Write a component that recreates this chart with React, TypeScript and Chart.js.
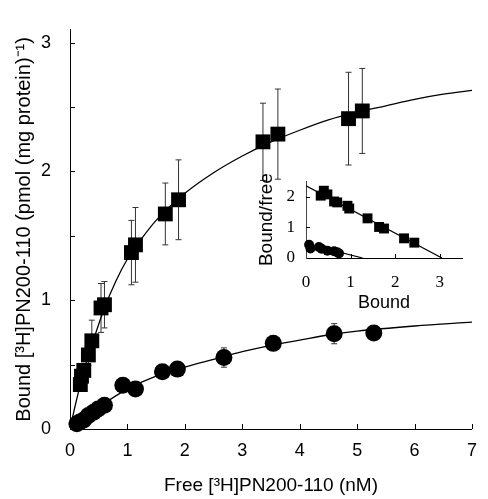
import React, { useEffect, useRef } from "react";
import { Chart, registerables } from "chart.js";

Chart.register(...registerables);

const SANS = "'Liberation Sans', Arial, Helvetica, sans-serif";
const SERIF = "'Liberation Serif', 'Times New Roman', serif";

// ---- Main plot: saturation binding ----
const xTicks = [0, 1, 2, 3, 4, 5, 6, 7];
const yTicks = [0, 1, 2, 3];
const xInnerTicks = [1, 2, 3, 4, 5, 6, 7];
const yInnerTicks = [0.5, 1, 1.5, 2, 2.5, 3];

// squares
const sqFree = [0.18, 0.2, 0.24, 0.32, 0.38, 0.54, 0.6, 1.07, 1.14, 1.66, 1.89, 3.36, 3.62, 4.85, 5.09];
const sqBound = [0.345, 0.41, 0.455, 0.575, 0.685, 0.94, 0.965, 1.37, 1.43, 1.67, 1.78, 2.23, 2.29, 2.41, 2.47];
const sqErr = [0.04, 0.04, 0.04, 0.08, 0.16, 0.19, 0.18, 0.25, 0.29, 0.24, 0.31, 0.3, 0.35, 0.36, 0.33];

// circles
const ciFree = [0.12, 0.17, 0.24, 0.32, 0.41, 0.49, 0.6, 0.92, 1.14, 1.61, 1.87, 2.68, 3.54, 4.6, 5.29];
const ciBound = [0.04, 0.055, 0.07, 0.105, 0.13, 0.155, 0.185, 0.34, 0.31, 0.445, 0.465, 0.555, 0.665, 0.74, 0.745];
const ciErr = [0, 0, 0, 0, 0, 0, 0, 0, 0, 0, 0, 0.075, 0, 0.078, 0];

// fitted curves
const sqCurveX = [0, 0.1, 0.2, 0.3, 0.4, 0.6, 0.8, 1.0, 1.25, 1.5, 2.0, 2.5, 3.0, 3.5, 4.0, 4.5, 5.0, 5.5, 6.0, 6.5, 7.0];
const sqCurveY = [0, 0.2, 0.38, 0.54, 0.68, 0.94, 1.15, 1.32, 1.48, 1.62, 1.83, 1.99, 2.12, 2.23, 2.32, 2.4, 2.46, 2.51, 2.56, 2.6, 2.63];
const ciCurveX = [0, 0.3, 0.6, 1.0, 1.5, 2.0, 2.5, 3.0, 3.5, 4.0, 4.5, 5.0, 6.0, 7.0];
const ciCurveY = [0, 0.1, 0.2, 0.31, 0.41, 0.48, 0.54, 0.6, 0.65, 0.69, 0.73, 0.76, 0.8, 0.83];

// ---- Inset: Scatchard plot ----
const inXTicks = [0, 1, 2, 3];
const inYTicks = [0, 1, 2];
const inXInner = [1, 2, 3];
const inYInner = [1, 2];
const inSqX = [0.33, 0.4, 0.48, 0.63, 0.7, 0.93, 0.97, 1.38, 1.64, 1.75, 2.2, 2.43];
const inSqY = [2.03, 2.19, 2.07, 1.84, 1.81, 1.7, 1.61, 1.29, 1.01, 0.96, 0.64, 0.5];
const inCiX = [0.07, 0.1, 0.29, 0.35, 0.48, 0.63, 0.7, 0.74];
const inCiY = [0.43, 0.31, 0.36, 0.3, 0.24, 0.22, 0.19, 0.15];
const inSqLineX = [0, 3.05];
const inSqLineY = [2.35, 0];
const inCiLineX = [0, 1.27];
const inCiLineY = [0.47, 0];

const pts = (xs: number[], ys: number[]) => xs.map((x, i) => ({ x, y: ys[i] }));

const errorBarPlugin = {
  id: "errorBars",
  beforeDatasetsDraw(chart: any) {
    const ctx = chart.ctx;
    const xs = chart.scales.x;
    const ys = chart.scales.y;
    ctx.save();
    ctx.strokeStyle = "#333";
    ctx.lineWidth = 1;
    chart.data.datasets.forEach((ds: any) => {
      if (!ds.errors) return;
      ds.data.forEach((p: any, i: number) => {
        const e = ds.errors[i];
        if (!e) return;
        const px = xs.getPixelForValue(p.x);
        const top = ys.getPixelForValue(p.y + e);
        const bot = ys.getPixelForValue(p.y - e);
        ctx.beginPath();
        ctx.moveTo(px, top);
        ctx.lineTo(px, bot);
        ctx.moveTo(px - 3, top);
        ctx.lineTo(px + 3, top);
        ctx.moveTo(px - 3, bot);
        ctx.lineTo(px + 3, bot);
        ctx.stroke();
      });
    });
    ctx.restore();
  },
};

const innerTickPlugin = {
  id: "innerTicks",
  afterDraw(chart: any, _args: any, opts: any) {
    const ctx = chart.ctx;
    const xs = chart.scales.x;
    const ys = chart.scales.y;
    const len = opts.len || 5;
    ctx.save();
    ctx.strokeStyle = opts.color || "#000";
    ctx.lineWidth = 1;
    ctx.beginPath();
    (opts.x || []).forEach((v: number) => {
      const px = Math.round(xs.getPixelForValue(v)) + 0.5;
      ctx.moveTo(px, ys.bottom);
      ctx.lineTo(px, ys.bottom - len);
    });
    (opts.y || []).forEach((v: number) => {
      const py = Math.round(ys.getPixelForValue(v)) + 0.5;
      ctx.moveTo(xs.left, py);
      ctx.lineTo(xs.left + len, py);
    });
    ctx.stroke();
    ctx.restore();
  },
};

export default function App() {
  const mainRef = useRef<HTMLCanvasElement>(null);
  const insetRef = useRef<HTMLCanvasElement>(null);

  useEffect(() => {
    if (!mainRef.current || !insetRef.current) return;

    const main = new Chart(mainRef.current, {
      type: "scatter",
      data: {
        datasets: [
          {
            label: "Squares fit",
            data: pts(sqCurveX, sqCurveY),
            showLine: true,
            pointRadius: 0,
            borderColor: "#000",
            borderWidth: 1.3,
            cubicInterpolationMode: "monotone",
          } as any,
          {
            label: "Circles fit",
            data: pts(ciCurveX, ciCurveY),
            showLine: true,
            pointRadius: 0,
            borderColor: "#000",
            borderWidth: 1.3,
            cubicInterpolationMode: "monotone",
          } as any,
          {
            label: "Squares",
            data: pts(sqFree, sqBound),
            errors: sqErr,
            pointStyle: "rect",
            pointRadius: 10.5,
            backgroundColor: "#000",
            borderColor: "#000",
            borderWidth: 0,
            clip: false,
          } as any,
          {
            label: "Circles",
            data: pts(ciFree, ciBound),
            errors: ciErr,
            pointStyle: "circle",
            pointRadius: 8.5,
            backgroundColor: "#000",
            borderColor: "#000",
            borderWidth: 0,
            clip: false,
          } as any,
        ],
      },
      options: {
        animation: false,
        responsive: false,
        maintainAspectRatio: false,
        layout: { padding: { top: 4, right: 8, left: 0, bottom: 0 } },
        plugins: {
          legend: { display: false },
          tooltip: { enabled: false },
          innerTicks: { x: xInnerTicks, y: yInnerTicks, len: 5 },
        } as any,
        scales: {
          x: {
            type: "linear",
            min: 0,
            max: 7,
            afterFit: (s: any) => {
              s.height = 70;
            },
            afterBuildTicks: (s: any) => {
              s.ticks = xTicks.map((v) => ({ value: v }));
            },
            grid: { display: false, drawTicks: false },
            border: { display: true, color: "#000", width: 1 },
            ticks: { font: { family: SANS, size: 18 }, color: "#000", padding: 11, maxRotation: 0 },
            title: {
              display: true,
              text: "Free [³H]PN200-110 (nM)",
              font: { family: SANS, size: 19 },
              color: "#000",
              padding: { top: 0, bottom: 2 },
            },
          },
          y: {
            type: "linear",
            min: 0,
            max: 3.1,
            afterFit: (s: any) => {
              s.width = 70;
            },
            afterBuildTicks: (s: any) => {
              s.ticks = yTicks.map((v) => ({ value: v }));
            },
            grid: { display: false, drawTicks: false },
            border: { display: true, color: "#000", width: 1 },
            ticks: { font: { family: SANS, size: 18 }, color: "#000", padding: 19 },
            title: {
              display: true,
              text: "Bound [³H]PN200-110 (pmol (mg protein)⁻¹)",
              font: { family: SANS, size: 20 },
              color: "#000",
              padding: { top: 12, bottom: 0 },
            },
          },
        },
      } as any,
      plugins: [errorBarPlugin, innerTickPlugin],
    });

    const inset = new Chart(insetRef.current, {
      type: "scatter",
      data: {
        datasets: [
          {
            label: "Squares line",
            data: pts(inSqLineX, inSqLineY),
            showLine: true,
            pointRadius: 0,
            borderColor: "#000",
            borderWidth: 1.2,
          } as any,
          {
            label: "Circles line",
            data: pts(inCiLineX, inCiLineY),
            showLine: true,
            pointRadius: 0,
            borderColor: "#000",
            borderWidth: 1.2,
          } as any,
          {
            label: "Squares",
            data: pts(inSqX, inSqY),
            pointStyle: "rect",
            pointRadius: 7,
            backgroundColor: "#000",
            borderColor: "#000",
            borderWidth: 0,
            clip: false,
          } as any,
          {
            label: "Circles",
            data: pts(inCiX, inCiY),
            pointStyle: "circle",
            pointRadius: 5,
            backgroundColor: "#000",
            borderColor: "#000",
            borderWidth: 0,
            clip: false,
          } as any,
        ],
      },
      options: {
        animation: false,
        responsive: false,
        maintainAspectRatio: false,
        layout: { padding: { top: 8, right: 18, left: 0, bottom: 0 } },
        plugins: {
          legend: { display: false },
          tooltip: { enabled: false },
          innerTicks: { x: inXInner, y: inYInner, len: 4 },
        } as any,
        scales: {
          x: {
            type: "linear",
            min: 0,
            max: 3.5,
            afterFit: (s: any) => {
              s.height = 62;
            },
            afterBuildTicks: (s: any) => {
              s.ticks = inXTicks.map((v) => ({ value: v }));
            },
            grid: { display: false, drawTicks: false },
            border: { display: true, color: "#000", width: 1 },
            ticks: { font: { family: SERIF, size: 17 }, color: "#000", padding: 14, maxRotation: 0 },
            title: {
              display: true,
              text: "Bound",
              font: { family: SANS, size: 18 },
              color: "#000",
              padding: { top: 0, bottom: 6 },
            },
          },
          y: {
            type: "linear",
            min: 0,
            max: 2.5,
            afterFit: (s: any) => {
              s.width = 56;
            },
            afterBuildTicks: (s: any) => {
              s.ticks = inYTicks.map((v) => ({ value: v }));
            },
            grid: { display: false, drawTicks: false },
            border: { display: true, color: "#444", width: 1, dash: [2, 1] },
            ticks: { font: { family: SERIF, size: 17 }, color: "#000", padding: 11 },
            title: {
              display: true,
              text: "Bound/free",
              font: { family: SANS, size: 19 },
              color: "#000",
              padding: { top: 5, bottom: 0 },
            },
          },
        },
      } as any,
      plugins: [innerTickPlugin],
    });

    return () => {
      main.destroy();
      inset.destroy();
    };
  }, []);

  return (
    <div style={{ position: "fixed", left: 0, top: 0, width: 488, height: 499, background: "#fff" }}>
      <canvas ref={mainRef} width={488} height={499} style={{ position: "absolute", left: 0, top: 0 }} />
      <canvas ref={insetRef} width={230} height={160} style={{ position: "absolute", left: 250, top: 160 }} />
    </div>
  );
}
